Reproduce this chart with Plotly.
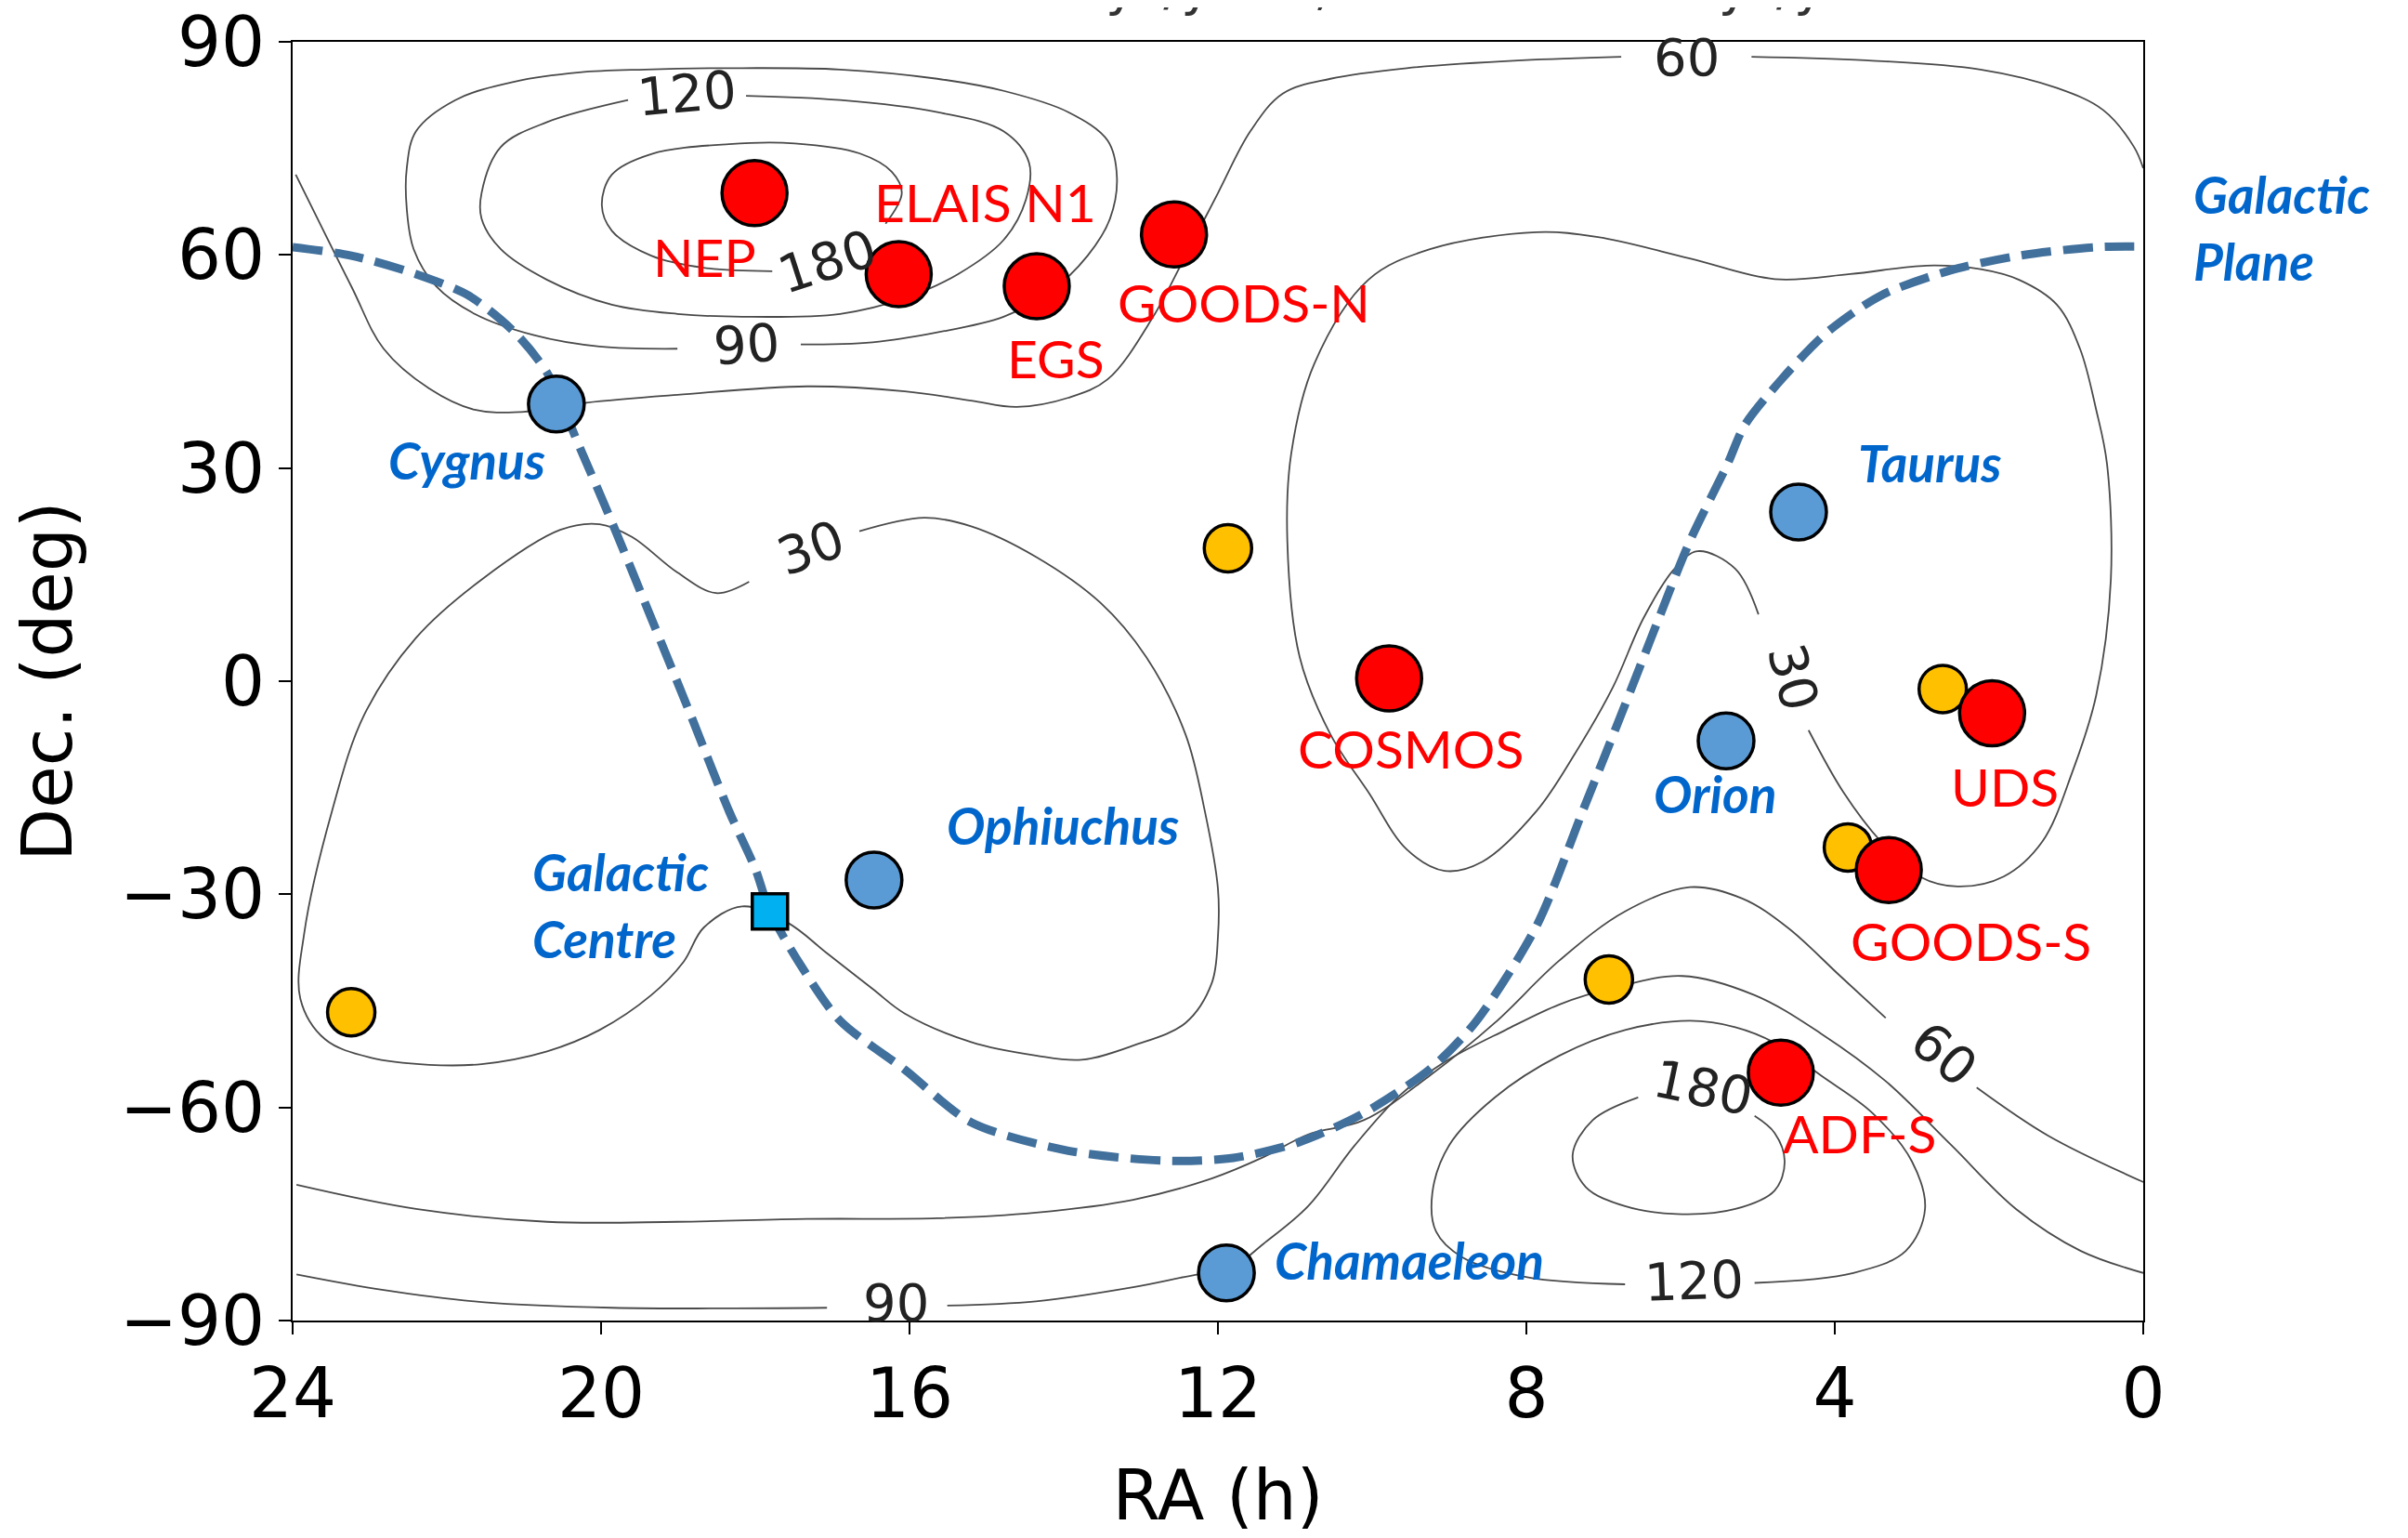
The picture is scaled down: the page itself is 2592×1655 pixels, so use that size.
import plotly.graph_objects as go

# ---------------- data (RA in hours, Dec in degrees) ----------------
field_names = ["NEP", "ELAIS N1", "EGS", "GOODS-N", "COSMOS", "UDS", "GOODS-S", "ADF-S"]
field_ra = [18.01, 16.14, 14.35, 12.57, 9.78, 1.96, 3.30, 4.70]
field_dec = [68.7, 57.3, 55.6, 62.9, 0.4, -4.5, -26.6, -55.1]

region_names = ["Cygnus", "Taurus", "Orion", "Ophiuchus", "Chamaeleon"]
region_ra = [20.58, 4.47, 5.41, 16.46, 11.89]
region_dec = [39.0, 23.8, -8.4, -28.0, -83.3]

gc_name = "Galactic<br>Centre"
gc_ra = [17.81]
gc_dec = [-32.4]

extra_ra = [11.87, 2.60, 3.83, -0.23, 6.93, 23.24]
extra_dec = [18.7, -1.1, -23.4, -31.7, -42.0, -46.6]

plane_name = "Galactic<br>Plane"
plane_ra = [24.0, 23.24, 22.40, 21.72, 21.12, 20.70, 20.28, 19.86, 19.35, 18.84, 18.34, 18.0,
            17.81, 17.41, 16.90, 16.06, 15.20, 13.94, 12.67, 11.80, 10.95, 10.11, 9.25, 8.66,
            7.87, 7.27, 6.77, 6.28, 5.88, 5.39, 5.17, 4.69, 4.10, 3.40, 2.51, 1.61, 0.61, 0.0]
plane_dec = [61.1, 59.9, 57.3, 54.3, 49.1, 43.4, 33.0, 22.4, 8.9, -4.7, -18.3, -26.4,
             -32.4, -40.0, -47.8, -54.7, -62.1, -66.1, -67.5, -67.1, -64.9, -60.8, -54.6, -48.0,
             -34.5, -18.3, -4.7, 8.9, 19.7, 30.6, 36.0, 42.5, 49.1, 54.3, 57.8, 59.9, 61.1, 61.2]

# contour lines (days/year); None marks the gap left for the inline label
c60_north_ra = [23.96, 23.24, 22.82, 22.23, 21.64, 21.04, 20.19, 19.01, 17.33, 16.06, 15.20, 14.61,
                13.94, 13.43, 12.84, 12.42, 12.0, 11.58, 11.16, 10.54, 9.55, 8.06, 6.77, None,
                5.08, 3.60, 2.11, 1.12, 0.52, 0.12, 0.0]
c60_north_dec = [71.3, 55.6, 46.8, 41.2, 38.2, 37.9, 39.2, 40.3, 41.5, 40.8, 39.5, 38.6,
                 39.9, 42.5, 51.3, 59.9, 68.7, 77.4, 82.7, 84.8, 86.3, 87.4, 87.9, None,
                 87.9, 87.4, 86.1, 83.5, 80.4, 75.2, 72.2]

c90_north_ra = [17.41, 16.48, 15.64, 14.78, 14.19, 13.69, 13.40, 13.31, 13.43, 13.94, 14.78, 15.64,
                16.90, 18.17, 19.43, 20.28, 21.12, 21.89, 22.40, 22.52, 22.52, 22.43, 22.14, 21.64,
                20.87, 20.02, 19.01]
c90_north_dec = [47.4, 47.7, 49.1, 51.3, 54.7, 59.9, 65.1, 70.9, 76.1, 80.1, 83.1, 84.8,
                 86.1, 86.3, 86.1, 85.7, 84.4, 81.8, 77.4, 72.2, 66.5, 60.8, 55.6, 51.7,
                 48.7, 47.1, 46.8]

c120_north_ra = [18.12, 16.90, 15.64, 14.78, 14.45, 14.49, 14.78, 15.37, 16.06, 16.90, 18.17, 19.01,
                 19.86, 20.70, 21.30, 21.55, 21.55, 21.30, 20.70, 19.65]
c120_north_dec = [82.4, 81.8, 80.1, 77.4, 73.0, 67.8, 62.1, 57.3, 53.9, 51.7, 51.3, 51.7,
                  53.0, 56.5, 60.8, 65.1, 68.7, 75.2, 78.7, 81.8]

c180_north_ra = [17.78, 18.67, 19.35, 19.86, 19.99, 19.86, 19.35, 18.34, 17.49, 16.65, 16.23, 16.10, 16.31]
c180_north_dec = [57.7, 58.2, 59.9, 63.4, 67.0, 71.3, 74.2, 75.6, 75.7, 74.3, 71.7, 68.7, 64.4]

c30_west_ra = [16.65, 15.81, 15.20, 14.36, 13.52, 12.93, 12.42, 12.17, 12.0, 12.0, 12.08, 12.42,
               13.10, 13.77, 14.36, 15.20, 16.06, 16.48, 17.07, 17.58, 18.17, 18.67, 18.93, 19.35,
               20.02, 20.70, 21.55, 22.23, 22.99, 23.58, 23.90, 23.85, 23.49, 23.07, 22.40, 21.55,
               20.53, 20.02, 19.60, 19.01, 18.51, 18.08]
c30_west_dec = [21.1, 23.0, 21.8, 17.5, 11.0, 3.4, -7.5, -18.3, -29.2, -36.0, -42.5, -48.1,
                -51.3, -53.3, -52.7, -50.8, -46.8, -43.3, -38.3, -34.0, -31.7, -34.7, -39.5, -44.2,
                -49.1, -52.1, -53.9, -54.0, -53.0, -50.4, -44.7, -35.5, -18.3, -4.7, 6.1, 14.3,
                21.3, 22.1, 20.3, 15.3, 12.4, 14.0]

c30_east_ra = [4.99, 5.29, 5.78, 6.08, 6.48, 6.88, 7.37, 7.87, 8.57, 9.06, 9.55, 10.05,
               10.54, 10.94, 11.10, 11.05, 10.75, 10.05, 9.25, 7.87, 7.07, 5.88, 4.78, 3.80,
               2.81, 2.11, 1.61, 1.12, 0.82, 0.61, 0.47, 0.42, 0.61, 0.92, 1.31, 1.81,
               2.41, 2.90, 3.40, 3.89, 4.34]
c30_east_dec = [9.4, 15.8, 18.3, 15.8, 8.9, -0.9, -10.2, -18.3, -25.4, -26.7, -23.7, -15.6,
                -7.5, 3.4, 19.7, 32.0, 44.7, 56.5, 60.8, 63.2, 62.5, 59.5, 56.6, 57.3,
                58.5, 58.0, 56.5, 53.0, 46.8, 38.2, 30.6, 14.3, -2.0, -12.8, -22.6, -27.5,
                -28.9, -27.5, -22.6, -15.6, -6.9]

c60_south_ra = [23.95, 22.40, 20.70, 19.01, 17.33, 15.64, 14.36, 13.10, 12.08, 11.41, 10.83, 10.11,
                9.25, 8.41, 7.57, 6.72, 5.88, 5.20, 4.61, 3.93, 3.34, None, 2.16, 1.23, 0.0]
c60_south_dec = [-70.9, -74.3, -76.1, -76.1, -75.7, -75.6, -74.8, -73.0, -70.0, -67.0, -63.8, -61.8,
                 -55.5, -48.1, -39.3, -32.4, -29.0, -30.6, -34.7, -41.5, -47.4, None, -57.2, -64.0, -70.5]

c90_south_ra = [23.95, 22.82, 21.55, 19.86, 17.07, None, 15.51, 14.36, 13.10, 12.25, 11.89, 11.41,
                10.83, 10.23, 9.63, 9.06, 8.27, 7.57, 6.88, 5.98, 5.04, 4.18, 3.34, 2.49,
                1.65, 0.81, 0.0]
c90_south_dec = [-83.5, -85.7, -87.4, -88.2, -88.2, None, -87.9, -87.3, -85.3, -83.5, -83.1, -79.2,
                 -73.9, -65.4, -58.2, -53.6, -49.1, -45.5, -43.2, -41.5, -44.2, -49.6, -56.3, -65.3,
                 -74.3, -80.2, -83.3]

c120_south_ra = [5.04, 3.76, 3.08, 2.83, 3.0, 3.51, 4.18, 4.78, 5.29, 5.88, 6.72, 7.57,
                 8.41, 9.0, 9.22, 9.17, 8.83, 7.99, 6.72]
c120_south_dec = [-84.7, -83.3, -80.2, -74.3, -67.6, -60.8, -55.5, -50.9, -48.7, -47.8, -49.1, -52.7,
                  -58.6, -65.3, -72.1, -77.5, -81.1, -83.9, -84.9]

c180_south_ra = [5.04, 4.78, 4.65, 4.78, 5.29, 6.05, 6.72, 7.23, 7.40, 7.14, 6.55]
c180_south_dec = [-61.2, -63.6, -67.6, -71.7, -74.3, -75.0, -73.9, -71.2, -66.7, -61.8, -58.6]

contour_labels = ["120", "180", "90", "60", "30", "30", "60", "180", "120", "90"]
x_ticks = [24, 20, 16, 12, 8, 4, 0]
y_ticks = [-90, -60, -30, 0, 30, 60, 90]
top_note = "min = 28 days/year ; max = 183 days/year"

# ---------------- styling / placement ----------------
RED = "#FF0000"
BLUE_TXT = "#0066CC"
PT_FONT = "DejaVu Sans"
LAB_FONT = "Lato"

# inline contour-label placement (RA, Dec, angle), same order as contour_labels
clabel_place = [(18.89, 82.7, -5), (17.07, 59.1, -18), (18.12, 47.4, -4), (5.92, 87.9, 0),
                (17.28, 18.8, -20), (4.54, 0.6, 75), (2.58, -52.5, 40), (5.71, -57.2, 12),
                (5.83, -84.5, -2), (16.18, -87.4, 0)]

# label pixel offsets from markers (xshift, yshift)
field_off = {"NEP": (-54, -68), "ELAIS N1": (93, 78), "EGS": (21, -77), "GOODS-N": (75, -73),
             "COSMOS": (23, -75), "UDS": (14, -79), "GOODS-S": (88, -76), "ADF-S": (85, -65)}
region_off = {"Cygnus": (-96, -60, "center"), "Taurus": (142, 53, "center"),
              "Orion": (-12, -57, "center"), "Ophiuchus": (203, 59, "center"),
              "Chamaeleon": (50, 14, "left")}

fig = go.Figure()

contours = [
    (c60_north_ra, c60_north_dec), (c90_north_ra, c90_north_dec),
    (c120_north_ra, c120_north_dec), (c180_north_ra, c180_north_dec),
    (c30_west_ra, c30_west_dec), (c30_east_ra, c30_east_dec),
    (c60_south_ra, c60_south_dec), (c90_south_ra, c90_south_dec),
    (c120_south_ra, c120_south_dec), (c180_south_ra, c180_south_dec),
]
for cra, cdec in contours:
    fig.add_trace(go.Scatter(x=cra, y=cdec, mode="lines",
                             line=dict(color="#4a4a4a", width=1.8, shape="spline", smoothing=1.0),
                             hoverinfo="skip", showlegend=False, connectgaps=False))

fig.add_trace(go.Scatter(x=plane_ra, y=plane_dec, mode="lines",
                         line=dict(color="#41709C", width=9, dash="32px,13px", shape="spline", smoothing=0.8),
                         hoverinfo="skip", showlegend=False))

fig.add_trace(go.Scatter(x=extra_ra, y=extra_dec, mode="markers", cliponaxis=False,
                         marker=dict(size=51, color="#FFC000", line=dict(color="black", width=3.5)),
                         showlegend=False))
fig.add_trace(go.Scatter(x=field_ra, y=field_dec, mode="markers", cliponaxis=False,
                         marker=dict(size=70, color=RED, line=dict(color="black", width=3.5)),
                         showlegend=False))
fig.add_trace(go.Scatter(x=region_ra, y=region_dec, mode="markers", cliponaxis=False,
                         marker=dict(size=60, color="#5B9BD5", line=dict(color="black", width=3.5)),
                         showlegend=False))
fig.add_trace(go.Scatter(x=gc_ra, y=gc_dec, mode="markers", cliponaxis=False,
                         marker=dict(size=38, symbol="square", color="#00B0F0", line=dict(color="black", width=3.5)),
                         showlegend=False))

ann = []
for txt, (lx, ly, ang) in zip(contour_labels, clabel_place):
    ann.append(dict(x=lx, y=ly, xref="x", yref="y", text=txt, showarrow=False, textangle=ang,
                    font=dict(family=PT_FONT, size=56, color="#222222")))

for n, rx, dy in zip(field_names, field_ra, field_dec):
    xs, ys = field_off[n]
    ann.append(dict(x=rx, y=dy, xref="x", yref="y", text=n, showarrow=False, xshift=xs, yshift=ys,
                    font=dict(family=LAB_FONT, size=57, color=RED)))

for n, rx, dy in zip(region_names, region_ra, region_dec):
    xs, ys, anc = region_off[n]
    ann.append(dict(x=rx, y=dy, xref="x", yref="y", text=n, showarrow=False, xshift=xs, yshift=ys,
                    xanchor=anc,
                    font=dict(family=LAB_FONT, size=55, color=BLUE_TXT, weight="bold", style="italic")))

ann.append(dict(x=gc_ra[0], y=gc_dec[0], xref="x", yref="y", text=gc_name, showarrow=False,
                xanchor="left", align="left", xshift=-258, yshift=7,
                font=dict(family=LAB_FONT, size=55, color=BLUE_TXT, weight="bold", style="italic")))
ann.append(dict(x=plane_ra[-1], y=plane_dec[-1], xref="x", yref="y", text=plane_name, showarrow=False,
                xanchor="left", align="left", xshift=52, yshift=20,
                font=dict(family=LAB_FONT, size=55, color=BLUE_TXT, weight="bold", style="italic")))

# top line of text, cut off by the image edge in the original
ann.append(dict(x=0.57, y=1.0182, xref="paper", yref="paper", yanchor="bottom",
                text=top_note, showarrow=False,
                font=dict(family=PT_FONT, size=56, color="#333333")))

fig.update_layout(
    width=2592, height=1655,
    margin=dict(l=307, r=293, t=37, b=242, autoexpand=False),
    paper_bgcolor="white", plot_bgcolor="white",
    annotations=ann,
    showlegend=False,
)
fig.update_xaxes(range=[24, 0], tickvals=x_ticks, ticktext=[str(t) for t in x_ticks],
                 ticks="outside", ticklen=13, tickwidth=2, tickcolor="black",
                 showline=True, linecolor="black", linewidth=2, mirror=True, automargin=False,
                 showgrid=False, zeroline=False, ticklabeloverflow="allow",
                 tickfont=dict(family=PT_FONT, size=74, color="black"),
                 title=dict(text="RA (h)", font=dict(family=PT_FONT, size=74, color="black"), standoff=42))
fig.update_yaxes(range=[-90, 90], tickvals=y_ticks,
                 ticks="outside", ticklen=13, tickwidth=2, tickcolor="black",
                 showline=True, linecolor="black", linewidth=2, mirror=True, automargin=False,
                 showgrid=False, zeroline=False, ticklabeloverflow="allow",
                 tickfont=dict(family=PT_FONT, size=74, color="black"),
                 title=dict(text="Dec. (deg)", font=dict(family=PT_FONT, size=74, color="black"), standoff=30))

fig.write_html("out.html")
